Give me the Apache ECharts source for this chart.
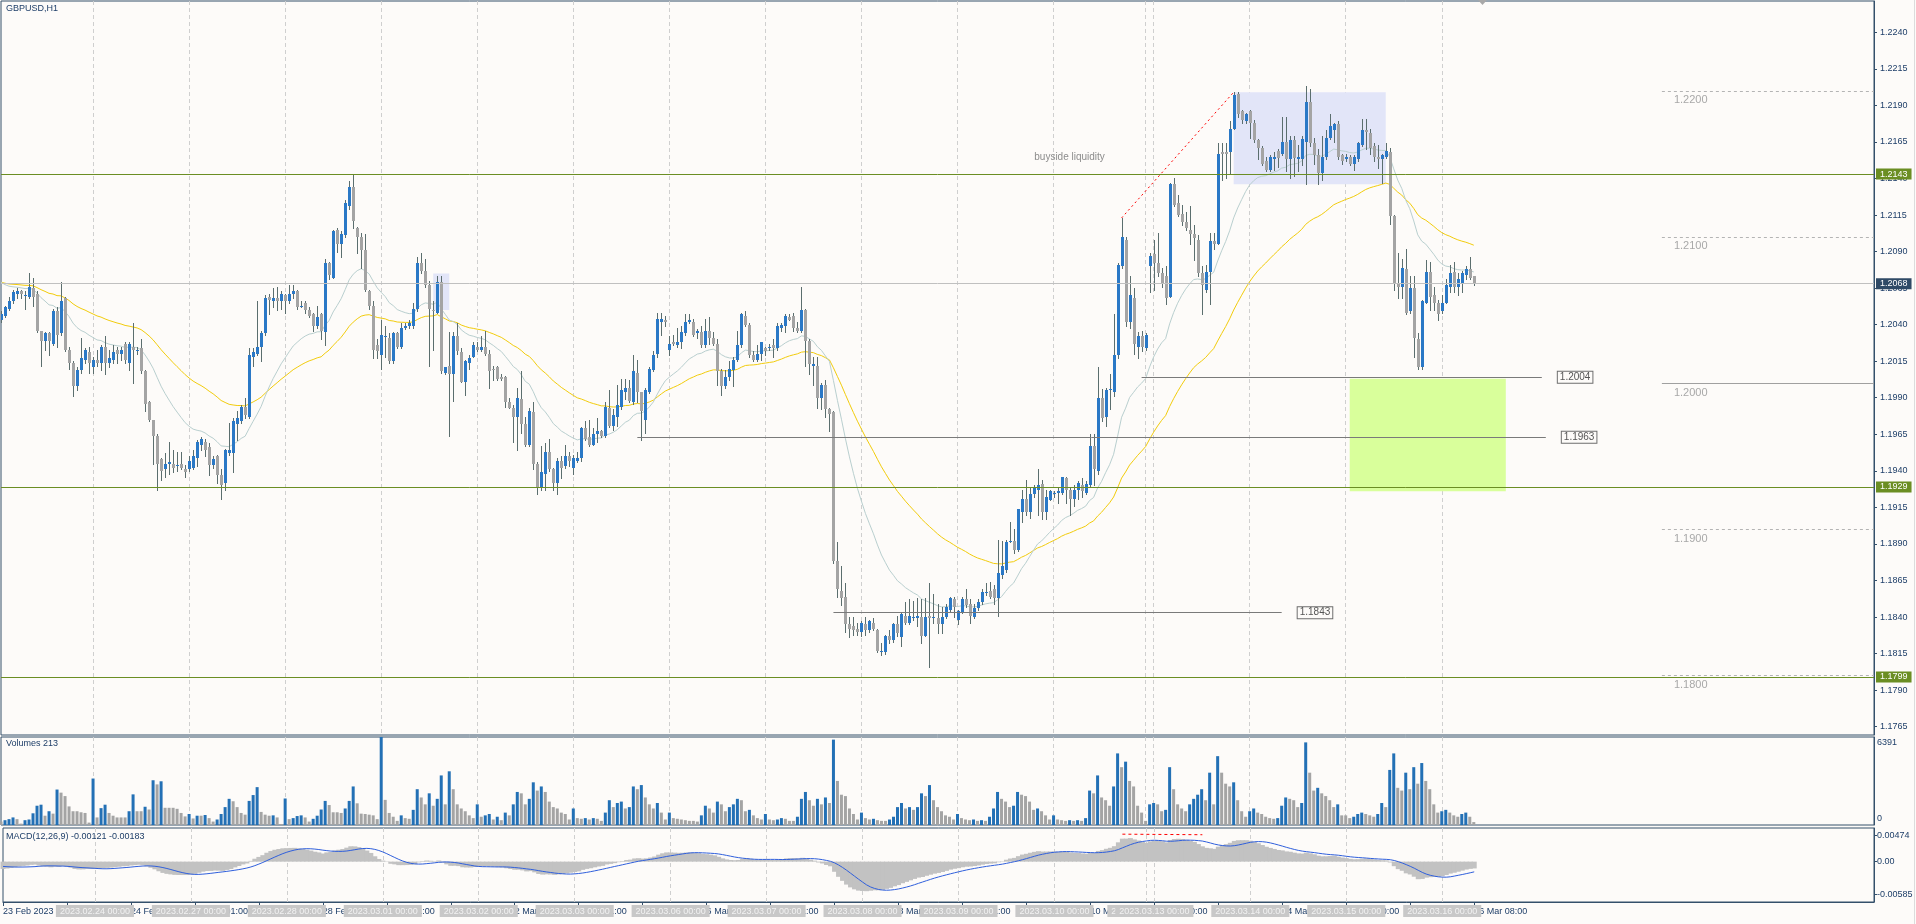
<!DOCTYPE html>
<html>
<head>
<meta charset="utf-8">
<title>GBPUSD,H1</title>
<script src="https://cdn.jsdelivr.net/npm/echarts@6/dist/echarts.min.js"></script>
<style>
html,body{margin:0;padding:0;background:#fdfbf9;overflow:hidden;}
#chart{width:1916px;height:924px;}
</style>
</head>
<body>
<div id="chart"></div>
<script>
// ---------------- DATA ----------------
// trading sessions shown: [date, first hour, number of H1 bars]
const sessions = [
  ['2023.02.23',1,23],['2023.02.24',0,24],['2023.02.27',0,24],['2023.02.28',0,24],
  ['2023.03.01',0,24],['2023.03.02',0,24],['2023.03.03',0,24],['2023.03.06',0,24],
  ['2023.03.07',0,24],['2023.03.08',0,24],['2023.03.09',0,24],['2023.03.10',0,23],
  ['2023.03.12',22,2],['2023.03.13',0,24],['2023.03.14',0,24],['2023.03.15',0,24],
  ['2023.03.16',0,9]
];
// empty (chart-shift) space to the right of the last bar
const futureSessions = [['2023.03.16',9,15],['2023.03.17',0,24],['2023.03.20',0,24],['2023.03.21',0,24],['2023.03.22',0,24]];
const totalSlots = 469;

const opens = [1.2043,1.2046,1.2051,1.2056,1.2061,1.2063,1.2060,1.2059,1.2065,1.2061,
1.2036,1.2029,1.2034,1.2027,1.2049,1.2034,1.2058,1.2023,1.2014,1.1998,
1.2009,1.2016,1.2021,1.2011,1.2016,1.2014,1.2025,1.2014,1.2016,1.2023,
1.2020,1.2027,1.2014,1.2025,1.2022,1.2024,1.2008,1.1987,1.1975,1.1964,
1.1948,1.1941,1.1945,1.1945,1.1943,1.1945,1.1941,1.1941,1.1942,1.1949,
1.1958,1.1960,1.1956,1.1944,1.1950,1.1937,1.1932,1.1952,1.1952,1.1972,
1.1974,1.1984,1.1977,1.2018,1.2020,1.2025,1.2034,1.2059,1.2056,1.2058,
1.2056,1.2060,1.2056,1.2061,1.2063,1.2053,1.2055,1.2050,1.2047,1.2039,
1.2047,1.2035,1.2082,1.2072,1.2105,1.2095,1.2101,1.2121,1.2134,1.2106,
1.2100,1.2091,1.2063,1.2053,1.2026,1.2019,1.2032,1.2031,1.2015,1.2034,
1.2025,1.2038,1.2039,1.2039,1.2051,1.2082,1.2077,1.2067,1.2050,1.2048,
1.2069,1.2007,1.2012,1.2006,1.2032,1.2021,1.2001,1.2014,1.2018,1.2025,
1.2023,1.2025,1.2020,1.2010,1.2011,1.2004,1.2004,1.1987,1.1983,1.1977,
1.1989,1.1972,1.1958,1.1980,1.1945,1.1929,1.1938,1.1953,1.1941,1.1932,
1.1947,1.1943,1.1950,1.1942,1.1947,1.1949,1.1969,1.1963,1.1958,1.1965,
1.1967,1.1964,1.1983,1.1971,1.1977,1.1984,1.1994,1.1997,1.1987,1.2007,
1.1994,1.1975,1.1994,1.2009,1.2020,1.2042,1.2043,1.2023,1.2028,1.2026,
1.2028,1.2034,1.2042,1.2042,1.2034,1.2035,1.2026,1.2036,1.2031,1.2027,
1.2008,1.1998,1.2004,1.2009,1.2016,1.2026,1.2046,1.2040,1.2019,1.2016,
1.2020,1.2024,1.2024,1.2026,1.2024,1.2038,1.2039,1.2045,1.2046,1.2038,
1.2036,1.2050,1.2029,1.2012,1.2012,1.1990,1.1999,1.1982,1.1980,1.1878,
1.1858,1.1854,1.1835,1.1834,1.1832,1.1830,1.1835,1.1831,1.1836,1.1831,
1.1816,1.1816,1.1827,1.1824,1.1835,1.1826,1.1841,1.1836,1.1839,1.1839,
1.1840,1.1827,1.1841,1.1839,1.1839,1.1835,1.1840,1.1845,1.1852,1.1838,
1.1843,1.1852,1.1849,1.1840,1.1846,1.1850,1.1857,1.1858,1.1859,1.1853,
1.1869,1.1872,1.1891,1.1892,1.1886,1.1912,1.1921,1.1912,1.1924,1.1927,
1.1931,1.1912,1.1920,1.1924,1.1925,1.1925,1.1935,1.1927,1.1921,1.1927,
1.1930,1.1925,1.1930,1.1957,1.1940,1.1990,1.1977,1.1995,1.1994,1.2019,
1.2080,1.2098,1.2042,1.2058,1.2025,1.2032,1.2024,1.2080,1.2088,1.2082,
1.2075,1.2073,1.2059,1.2136,1.2123,1.2116,1.2110,1.2105,1.2102,1.2098,
1.2075,1.2064,1.2076,1.2097,1.2095,1.2158,1.2158,1.2158,1.2174,1.2198,
1.2186,1.2179,1.2186,1.2178,1.2166,1.2161,1.2152,1.2146,1.2153,1.2159,
1.2157,1.2165,1.2153,1.2166,1.2153,1.2153,1.2165,1.2192,1.2164,1.2156,
1.2144,1.2155,1.2168,1.2173,1.2177,1.2156,1.2153,1.2155,1.2150,1.2153,
1.2163,1.2173,1.2171,1.2162,1.2155,1.2153,1.2155,1.2158,1.2114,1.2068,
1.2066,1.2078,1.2049,1.2065,1.2030,1.2011,1.2055,1.2076,1.2060,1.2055,
1.2049,1.2055,1.2066,1.2076,1.2066,1.2068,1.2074,1.2078,1.2073];

const highs = [1.2049,1.2053,1.2059,1.2064,1.2065,1.2064,1.2063,1.2075,1.2072,1.2063,
1.2036,1.2035,1.2035,1.2051,1.2052,1.2069,1.2059,1.2025,1.2015,1.2011,
1.2031,1.2024,1.2025,1.2018,1.2023,1.2026,1.2032,1.2023,1.2026,1.2025,
1.2025,1.2028,1.2028,1.2041,1.2025,1.2030,1.2009,1.1988,1.1975,1.1965,
1.1949,1.1952,1.1960,1.1954,1.1953,1.1953,1.1944,1.1950,1.1954,1.1961,
1.1963,1.1962,1.1959,1.1950,1.1951,1.1941,1.1955,1.1973,1.1976,1.1981,
1.1985,1.1990,1.2024,1.2024,1.2056,1.2036,1.2060,1.2061,1.2065,1.2066,
1.2063,1.2061,1.2067,1.2067,1.2064,1.2056,1.2056,1.2052,1.2048,1.2053,
1.2048,1.2085,1.2083,1.2105,1.2106,1.2104,1.2125,1.2138,1.2143,1.2107,
1.2103,1.2102,1.2064,1.2056,1.2030,1.2043,1.2039,1.2034,1.2035,1.2035,
1.2041,1.2041,1.2043,1.2055,1.2086,1.2089,1.2085,1.2070,1.2056,1.2073,
1.2073,1.2011,1.2035,1.2035,1.2041,1.2024,1.2016,1.2019,1.2028,1.2028,
1.2032,1.2036,1.2023,1.2012,1.2012,1.2006,1.2005,1.1990,1.1985,1.1997,
1.2008,1.1977,1.1983,1.1987,1.1946,1.1957,1.1959,1.1962,1.1942,1.1949,
1.1950,1.1958,1.1953,1.1951,1.1953,1.1970,1.1974,1.1975,1.1969,1.1976,
1.1968,1.1987,1.1995,1.1982,1.1999,1.2003,1.2003,1.2002,1.2019,1.2016,
1.1994,1.1997,1.2011,1.2022,1.2048,1.2048,1.2046,1.2032,1.2033,1.2038,
1.2039,1.2047,1.2047,1.2044,1.2037,1.2039,1.2044,1.2045,1.2035,1.2030,
1.2010,1.2009,1.2015,1.2018,1.2036,1.2048,1.2049,1.2041,1.2022,1.2026,
1.2028,1.2025,1.2027,1.2030,1.2041,1.2041,1.2047,1.2047,1.2048,1.2042,
1.2066,1.2051,1.2030,1.2018,1.2018,1.2000,1.2002,1.1983,1.1981,1.1891,
1.1875,1.1863,1.1840,1.1840,1.1836,1.1837,1.1840,1.1838,1.1839,1.1832,
1.1822,1.1828,1.1831,1.1836,1.1841,1.1843,1.1850,1.1852,1.1851,1.1853,
1.1852,1.1853,1.1863,1.1856,1.1849,1.1847,1.1849,1.1854,1.1854,1.1845,
1.1854,1.1859,1.1852,1.1849,1.1852,1.1859,1.1863,1.1864,1.1862,1.1893,
1.1892,1.1893,1.1905,1.1900,1.1914,1.1927,1.1934,1.1929,1.1930,1.1941,
1.1934,1.1927,1.1927,1.1926,1.1928,1.1936,1.1936,1.1929,1.1930,1.1933,
1.1935,1.1933,1.1965,1.1965,1.2011,1.1996,1.1997,1.2006,1.2047,1.2082,
1.2113,1.2100,1.2073,1.2065,1.2035,1.2036,1.2034,1.2089,1.2098,1.2103,
1.2079,1.2080,1.2137,1.2140,1.2129,1.2122,1.2117,1.2121,1.2108,1.2101,
1.2080,1.2081,1.2103,1.2103,1.2164,1.2164,1.2164,1.2179,1.2199,1.2199,
1.2187,1.2185,1.2187,1.2180,1.2167,1.2162,1.2155,1.2156,1.2158,1.2160,
1.2182,1.2182,1.2169,1.2169,1.2163,1.2169,1.2203,1.2201,1.2168,1.2160,
1.2169,1.2173,1.2184,1.2178,1.2179,1.2157,1.2157,1.2156,1.2156,1.2165,
1.2181,1.2181,1.2174,1.2164,1.2163,1.2157,1.2164,1.2161,1.2115,1.2089,
1.2085,1.2092,1.2073,1.2073,1.2034,1.2057,1.2084,1.2083,1.2066,1.2057,
1.2060,1.2071,1.2081,1.2083,1.2075,1.2077,1.2080,1.2086,1.2073];

const lows = [1.2042,1.2045,1.2050,1.2055,1.2058,1.2058,1.2051,1.2058,1.2053,1.2035,
1.2012,1.2023,1.2019,1.2026,1.2025,1.2033,1.2022,1.2010,1.1991,1.1995,
1.2007,1.2014,1.2007,1.2007,1.2012,1.2009,1.2006,1.2011,1.2014,1.2014,
1.2016,1.2014,1.2009,1.2000,1.2020,1.2007,1.1981,1.1974,1.1945,1.1927,
1.1934,1.1936,1.1938,1.1939,1.1940,1.1941,1.1936,1.1940,1.1941,1.1943,
1.1954,1.1950,1.1937,1.1942,1.1932,1.1921,1.1927,1.1951,1.1939,1.1961,
1.1973,1.1976,1.1976,1.2012,1.2019,1.2015,1.2033,1.2047,1.2052,1.2050,
1.2051,1.2048,1.2055,1.2058,1.2051,1.2052,1.2048,1.2045,1.2036,1.2038,
1.2030,1.2026,1.2071,1.2072,1.2090,1.2086,1.2100,1.2119,1.2106,1.2089,
1.2079,1.2063,1.2051,1.2017,1.2017,1.2010,1.2018,1.2014,1.2014,1.2024,
1.2024,1.2037,1.2038,1.2038,1.2049,1.2075,1.2066,1.2012,1.2023,1.2048,
1.2007,1.2006,1.1964,1.1988,1.2020,1.2001,1.1992,1.2010,1.2018,1.2022,
1.2022,1.2019,1.1997,1.2002,1.2002,1.2002,1.1984,1.1983,1.1960,1.1954,
1.1966,1.1957,1.1957,1.1941,1.1924,1.1927,1.1927,1.1940,1.1927,1.1924,
1.1935,1.1942,1.1943,1.1938,1.1946,1.1947,1.1961,1.1957,1.1958,1.1960,
1.1963,1.1963,1.1970,1.1968,1.1971,1.1982,1.1989,1.1987,1.1986,1.1987,
1.1961,1.1966,1.1993,1.2008,1.2018,1.2033,1.2039,1.2019,1.2026,1.2025,
1.2024,1.2033,1.2041,1.2032,1.2031,1.2025,1.2025,1.2027,1.2026,1.1999,
1.1992,1.1997,1.2002,1.1998,1.2015,1.2025,1.2039,1.2018,1.2015,1.2015,
1.2016,1.2019,1.2023,1.2018,1.2023,1.2036,1.2035,1.2043,1.2036,1.2035,
1.2035,1.2012,1.2006,1.1999,1.1983,1.1982,1.1977,1.1967,1.1877,1.1854,
1.1848,1.1830,1.1826,1.1828,1.1828,1.1827,1.1828,1.1830,1.1831,1.1816,
1.1814,1.1815,1.1822,1.1823,1.1827,1.1820,1.1835,1.1835,1.1838,1.1834,
1.1822,1.1827,1.1806,1.1836,1.1829,1.1829,1.1839,1.1844,1.1840,1.1835,
1.1843,1.1847,1.1836,1.1839,1.1845,1.1849,1.1855,1.1853,1.1849,1.1841,
1.1867,1.1871,1.1891,1.1884,1.1885,1.1905,1.1910,1.1908,1.1922,1.1910,
1.1907,1.1907,1.1920,1.1922,1.1918,1.1924,1.1918,1.1910,1.1916,1.1921,
1.1922,1.1924,1.1929,1.1930,1.1938,1.1974,1.1971,1.1982,1.1991,1.2017,
1.2079,1.2039,1.2038,1.2020,1.2017,1.2022,1.2023,1.2062,1.2064,1.2073,
1.2066,1.2054,1.2059,1.2121,1.2114,1.2108,1.2105,1.2095,1.2084,1.2073,
1.2047,1.2062,1.2054,1.2092,1.2095,1.2139,1.2140,1.2144,1.2174,1.2182,
1.2178,1.2178,1.2168,1.2165,1.2153,1.2149,1.2145,1.2145,1.2146,1.2148,
1.2156,1.2145,1.2140,1.2142,1.2145,1.2149,1.2136,1.2162,1.2150,1.2136,
1.2139,1.2153,1.2167,1.2165,1.2153,1.2150,1.2152,1.2149,1.2146,1.2152,
1.2162,1.2160,1.2157,1.2152,1.2147,1.2137,1.2154,1.2109,1.2064,1.2058,
1.2058,1.2047,1.2048,1.2018,1.2010,1.2010,1.2055,1.2050,1.2050,1.2043,
1.2048,1.2055,1.2062,1.2062,1.2060,1.2062,1.2071,1.2071,1.2067];

const closes = [1.2047,1.2052,1.2056,1.2062,1.2063,1.2061,1.2060,1.2066,1.2059,1.2036,
1.2029,1.2034,1.2029,1.2049,1.2033,1.2056,1.2023,1.2014,1.1998,1.2009,
1.2017,1.2023,1.2014,1.2016,1.2014,1.2025,1.2014,1.2017,1.2021,1.2020,
1.2023,1.2016,1.2027,1.2023,1.2023,1.2008,1.1986,1.1975,1.1964,1.1945,
1.1940,1.1945,1.1946,1.1942,1.1944,1.1942,1.1939,1.1947,1.1950,1.1960,
1.1962,1.1954,1.1944,1.1948,1.1937,1.1930,1.1954,1.1954,1.1974,1.1976,
1.1984,1.1978,1.2019,1.2021,1.2025,1.2034,1.2058,1.2057,1.2058,1.2056,
1.2061,1.2056,1.2061,1.2063,1.2052,1.2053,1.2050,1.2046,1.2039,1.2045,
1.2036,1.2082,1.2074,1.2104,1.2095,1.2102,1.2123,1.2134,1.2111,1.2100,
1.2091,1.2064,1.2053,1.2023,1.2022,1.2033,1.2032,1.2015,1.2034,1.2025,
1.2038,1.2039,1.2041,1.2051,1.2082,1.2077,1.2067,1.2051,1.2049,1.2069,
1.2008,1.2011,1.2006,1.2032,1.2022,1.2001,1.2015,1.2017,1.2026,1.2023,
1.2025,1.2020,1.2008,1.2009,1.2003,1.2003,1.1987,1.1983,1.1977,1.1990,
1.1972,1.1958,1.1981,1.1945,1.1928,1.1939,1.1953,1.1941,1.1932,1.1947,
1.1942,1.1950,1.1947,1.1949,1.1949,1.1969,1.1962,1.1958,1.1965,1.1967,
1.1964,1.1984,1.1971,1.1978,1.1985,1.1995,1.1997,1.1988,1.2008,1.1994,
1.1981,1.1995,1.2010,1.2019,1.2044,1.2044,1.2042,1.2027,1.2027,1.2028,
1.2035,1.2042,1.2043,1.2033,1.2036,1.2026,1.2036,1.2031,1.2027,1.2008,
1.1998,1.2004,1.2010,1.2016,1.2026,1.2047,1.2040,1.2019,1.2016,1.2020,
1.2028,1.2022,1.2025,1.2024,1.2039,1.2040,1.2046,1.2043,1.2038,1.2036,
1.2050,1.2029,1.2013,1.2013,1.1990,1.1999,1.1982,1.1979,1.1878,1.1859,
1.1853,1.1835,1.1832,1.1831,1.1830,1.1836,1.1831,1.1837,1.1832,1.1817,
1.1817,1.1827,1.1824,1.1835,1.1829,1.1842,1.1836,1.1841,1.1840,1.1841,
1.1827,1.1840,1.1839,1.1840,1.1835,1.1840,1.1847,1.1853,1.1847,1.1844,
1.1852,1.1848,1.1841,1.1846,1.1850,1.1857,1.1857,1.1854,1.1853,1.1870,
1.1875,1.1891,1.1892,1.1886,1.1914,1.1921,1.1912,1.1924,1.1928,1.1930,
1.1912,1.1922,1.1926,1.1925,1.1926,1.1936,1.1927,1.1921,1.1927,1.1932,
1.1926,1.1931,1.1957,1.1941,1.1990,1.1976,1.1995,1.1996,1.2019,1.2081,
1.2100,1.2042,1.2060,1.2027,1.2032,1.2025,1.2033,1.2087,1.2082,1.2075,
1.2068,1.2058,1.2136,1.2122,1.2115,1.2110,1.2106,1.2102,1.2099,1.2075,
1.2067,1.2076,1.2097,1.2095,1.2157,1.2157,1.2157,1.2174,1.2197,1.2184,
1.2180,1.2184,1.2178,1.2166,1.2161,1.2150,1.2146,1.2155,1.2155,1.2154,
1.2165,1.2153,1.2166,1.2154,1.2155,1.2167,1.2192,1.2164,1.2156,1.2144,
1.2155,1.2168,1.2176,1.2177,1.2155,1.2152,1.2155,1.2150,1.2155,1.2164,
1.2173,1.2172,1.2161,1.2155,1.2153,1.2156,1.2159,1.2114,1.2068,1.2066,
1.2079,1.2048,1.2065,1.2031,1.2011,1.2056,1.2076,1.2059,1.2055,1.2047,
1.2055,1.2067,1.2075,1.2066,1.2071,1.2075,1.2078,1.2072,1.2068];

// tick volume per bar
const volumes = [250,350,425,550,425,100,350,400,850,1400,
1475,675,1000,825,2575,2350,2100,1350,1000,1000,
925,875,175,3375,550,1225,1475,875,675,550,
550,550,1000,2225,1000,1000,1325,1125,3250,2950,
3175,1250,1250,1250,1175,875,625,800,475,675,
675,725,500,250,400,800,1300,1900,1725,1300,
875,750,1750,2175,2750,950,750,675,700,550,
75,1925,425,500,650,700,550,250,450,675,
1125,1750,1450,925,925,875,1200,1750,2800,1575,
825,800,750,700,425,6391,1825,875,600,300,
700,500,450,1100,2600,2000,1500,2300,1400,1900,
3600,1500,3900,2600,1500,1200,1000,700,500,
1500,600,700,800,400,600,350,900,700,1500,2400,2300,1500,1900,3100,2500,2800,2400,1700,1300,1200,900,800,400,
1200,500,450,500,400,500,450,300,900,1800,1300,1600,1700,1200,1300,2800,2600,2900,2000,1500,1200,1600,900,400,
900,500,450,400,350,300,300,250,700,1400,1200,900,1700,1500,1000,1300,1500,1900,1800,1000,1100,700,500,400,
800,400,350,400,500,450,300,300,600,1900,2400,1800,1400,1900,1500,2000,1600,6200,3200,2200,2100,1200,800,400,
900,500,400,450,350,300,300,400,600,1300,1600,1200,1300,1100,1300,2300,2100,2900,1800,1300,1000,700,600,400,
800,500,400,350,400,300,350,300,600,1200,2400,1900,1700,1300,1400,2400,2200,2100,1700,1100,1200,1000,700,400,
700,400,350,300,350,300,350,300,500,2500,2300,3600,2000,1800,1400,2800,5200,4200,4600,3200,2800,1400,900,
300,1500,
1600,1500,1000,1100,4200,2600,1500,1200,1000,1500,1900,2200,2600,1800,3800,1500,5000,3800,3000,2800,3100,1800,1000,600,
1000,1200,900,800,600,500,450,500,1400,2000,1900,1800,1300,1600,6000,3800,2500,2700,2300,2100,1800,1300,1500,700,
700,500,600,800,900,800,700,600,800,1600,1300,4000,5200,2700,2500,3800,2600,4200,3000,4500,3200,2600,1500,900,
1000,1100,900,700,600,800,900,600,213];

const ema20Start = 1.2069, ema50Start = 1.2069;
const ema12Start = 1.2055, ema26Start = 1.2068, signalStart = -0.0008;

// axis ticks
const priceTicks = [1.1765,1.1790,1.1815,1.1840,1.1865,1.1890,1.1915,1.1940,1.1965,1.1990,
  1.2015,1.2040,1.2065,1.2090,1.2115,1.2140,1.2165,1.2190,1.2215,1.2240];
const priceMin = 1.17593, priceMax = 1.22614;
const volumeTicks = [0, 6391];
const volumeMax = 6391;
const macdTicks = [-0.00585, 0, 0.00474];
const macdMin = -0.0072, macdMax = 0.0060;

// drawn objects
const greenLevels = [1.2143, 1.1929, 1.1799];
const bidPrice = 1.2068;
const roundLevels = [1.2200, 1.2100, 1.2000, 1.1900, 1.1800];
const priceLabelLines = [
  {price:1.2004, from:285, to:385},
  {price:1.1963, from:159, to:386},
  {price:1.1843, from:208, to:320}
];
const boxes = [
  {from:308, to:346, top:1.2199, bottom:1.2136, color:'#e2e5f8'},
  {from:108, to:112, top:1.2075, bottom:1.2050, color:'#e2e5f8'},
  {from:337, to:376, top:1.2003, bottom:1.1926, color:'#d9ff9b'}
];
const trendLine = {from:280, fromPrice:1.2113, to:308, toPrice:1.2199};
const macdTrend = {from:280, fromVal:0.0049, to:300, toVal:0.0048};
const textNote = {bar:267, price:1.2154, text:'buyside liquidity'};

// ---------------- BUILD ----------------
const MONTHS = ['Jan','Feb','Mar','Apr','May','Jun','Jul','Aug','Sep','Oct','Nov','Dec'];
const pad = n => (n < 10 ? '0' : '') + n;
const cats = [];
const sepIdx = new Set();
sessions.forEach((s, si) => {
  for (let k = 0; k < s[2]; k++) {
    if (k === 0 && si > 0) sepIdx.add(cats.length);
    cats.push(s[0] + ' ' + pad(s[1] + k) + ':00');
  }
});
const lastBar = cats.length - 1;
futureSessions.forEach(s => { for (let k = 0; k < s[2]; k++) cats.push(s[0] + ' ' + pad(s[1] + k) + ':00'); });
cats.length = totalSlots;

function emaCalc(src, period, seed) {
  const k = 2 / (period + 1); const out = []; let e = seed;
  for (let i = 0; i < src.length; i++) { if (i > 0) e = e + k * (src[i] - e); out.push(e); }
  return out;
}
const ema20 = emaCalc(closes, 20, ema20Start);
const ema50 = emaCalc(closes, 50, ema50Start);
const e12 = emaCalc(closes, 12, ema12Start);
const e26 = emaCalc(closes, 26, ema26Start);
const macd = e12.map((v, i) => v - e26[i]);
const signal = macd.map((v, i) => {
  let s = 0; for (let j = i - 8; j <= i; j++) s += (j < 0 ? signalStart : macd[j]); return s / 9;
});

const BULL = '#2a78c6', BEAR = '#a4a4a4', WICK = '#5b6e6e';
const FRAME = '#34506b', TXT = '#20406a', SEP = '#cfcfcf';
const FONT = '"Liberation Sans", Arial, sans-serif';

const candleData = opens.map((o, i) => [i, o, closes[i], lows[i], highs[i]]);
const volData = volumes.map((v, i) => ({value: [i, v], itemStyle: {color: (i > 0 && v > volumes[i-1]) ? '#2370b5' : '#a4a4a4'}}));

function renderCandle(params, api) {
  const i = api.value(0), o = api.value(1), c = api.value(2), l = api.value(3), h = api.value(4);
  const pO = api.coord([i, o]), pC = api.coord([i, c]), pL = api.coord([i, l]), pH = api.coord([i, h]);
  const x = Math.round(pO[0]);
  const top = Math.round(Math.min(pO[1], pC[1])), bot = Math.round(Math.max(pO[1], pC[1]));
  return {type: 'group', children: [
    {type: 'line', shape: {x1: x + 0.5, y1: Math.round(pH[1]), x2: x + 0.5, y2: Math.round(pL[1]) + 1}, style: {stroke: WICK, lineWidth: 1}},
    {type: 'rect', shape: {x: x - 1, y: top, width: 3, height: Math.max(1, bot - top)}, style: {fill: c >= o ? BULL : BEAR}}
  ]};
}

const sepInterval = (idx) => sepIdx.has(idx);
const lblInterval = (idx) => idx % 16 === 0 && idx <= lastBar;
function fmtTime(v, idx) {
  const d = v.split(' ')[0].split('.'), t = v.split(' ')[1];
  if (idx === 0) return (+d[2]) + ' ' + MONTHS[+d[1] - 1] + ' ' + d[0];
  return (+d[2]) + ' ' + MONTHS[+d[1] - 1] + ' ' + t;
}

const gridDefs = [
  {left: 1, width: 1873, top: 1, height: 734},
  {left: 1, width: 1873, top: 737, height: 88},
  {left: 1, width: 1873, top: 828, height: 74}
];
const sepAxis = (gi) => ({
  type: 'category', gridIndex: gi, data: cats, boundaryGap: false,
  axisLine: {show: false}, axisTick: {show: false}, axisLabel: {show: false},
  splitLine: {show: true, interval: sepInterval, lineStyle: {color: SEP, type: [4, 3], width: 1}}
});

const tagLabel = (txt, bg) => ({show: true, position: 'end', distance: 2, formatter: txt, backgroundColor: bg, color: '#ffffff',
  fontSize: 9, fontFamily: FONT, padding: [1, 4, 0, 4], lineHeight: 10});
const markLines = [];
greenLevels.forEach(p => markLines.push({yAxis: p, lineStyle: {color: '#6b8e23', type: 'solid', width: 1}, label: tagLabel(p.toFixed(4), '#6b8e23')}));
markLines.push({yAxis: bidPrice, lineStyle: {color: '#c0c0c0', type: 'solid', width: 1}, label: tagLabel(bidPrice.toFixed(4), '#2f4a66')});
roundLevels.forEach(p => markLines.push([
  {coord: [415, p], lineStyle: {color: p === 1.2 ? '#a0a0a0' : '#b4b4b4', type: p === 1.2 ? 'solid' : [3, 3], width: 1},
   label: {show: true, position: 'insideStartBottom', formatter: p.toFixed(4), color: '#a8a8a8', fontSize: 11, fontFamily: FONT, distance: [12, 4]}},
  {coord: [totalSlots - 1, p]}
]));
priceLabelLines.forEach(l => markLines.push([
  {coord: [l.from, l.price], lineStyle: {color: '#7a7a7a', type: 'solid', width: 1},
   label: {show: true, position: 'end', distance: 16, formatter: l.price.toFixed(4), backgroundColor: '#fdfbf9',
     borderColor: '#6e6e6e', borderWidth: 1, color: '#555555', fontSize: 10, fontFamily: FONT, padding: [1, 2, 0, 2], lineHeight: 10}},
  {coord: [l.to, l.price]}
]));
markLines.push([
  {coord: [trendLine.from, trendLine.fromPrice], lineStyle: {color: '#ff0000', type: [2, 3], width: 1}, label: {show: false}},
  {coord: [trendLine.to, trendLine.toPrice]}
]);

const option = {
  animation: false,
  backgroundColor: '#fdfbf9',
  grid: gridDefs.map(g => Object.assign({show: true, borderColor: FRAME, borderWidth: 1, backgroundColor: 'transparent'}, g)),
  xAxis: [
    sepAxis(0), sepAxis(1), sepAxis(2),
    {type: 'category', gridIndex: 2, data: cats, boundaryGap: false, position: 'bottom',
     axisLine: {show: true, lineStyle: {color: FRAME}},
     axisTick: {show: true, interval: lblInterval, length: 4, lineStyle: {color: FRAME}},
     axisLabel: {interval: lblInterval, formatter: fmtTime, align: 'left', color: TXT, fontSize: 9, fontFamily: FONT, margin: 5},
     splitLine: {show: false}},
    {type: 'category', gridIndex: 2, data: cats, boundaryGap: false, position: 'bottom', z: 5,
     axisLine: {show: false}, axisTick: {show: false}, splitLine: {show: false},
     axisLabel: {interval: sepInterval, formatter: v => v, align: 'center', color: '#f2f2f2', backgroundColor: '#c8c8c8',
       padding: [2, 4, 1, 4], fontSize: 9, fontFamily: FONT, margin: 3}}
  ],
  yAxis: [
    {type: 'value', gridIndex: 0, position: 'right', min: priceMin, max: priceMax,
     axisLine: {show: true, lineStyle: {color: FRAME}},
     axisTick: {show: true, customValues: priceTicks, length: 3, lineStyle: {color: FRAME}},
     axisLabel: {customValues: priceTicks, formatter: v => v.toFixed(4), color: TXT, fontSize: 9, fontFamily: FONT, margin: 6},
     splitLine: {show: false}},
    {type: 'value', gridIndex: 1, position: 'right', min: 0, max: volumeMax,
     axisLine: {show: true, lineStyle: {color: FRAME}}, axisTick: {show: false},
     axisLabel: {customValues: volumeTicks, formatter: v => v === 0 ? '{b|0}' : '{t|' + v + '}', color: TXT, fontSize: 9, fontFamily: FONT, margin: 3,
       rich: {t: {padding: [12, 0, 0, 0], fontSize: 9, color: TXT, fontFamily: FONT}, b: {padding: [0, 0, 12, 0], fontSize: 9, color: TXT, fontFamily: FONT}}},
     splitLine: {show: false}},
    {type: 'value', gridIndex: 2, position: 'right', min: macdMin, max: macdMax,
     axisLine: {show: true, lineStyle: {color: FRAME}},
     axisTick: {show: true, customValues: macdTicks, length: 3, lineStyle: {color: FRAME}},
     axisLabel: {customValues: macdTicks, formatter: v => v === 0 ? '0.00' : v.toFixed(5), color: TXT, fontSize: 9, fontFamily: FONT, margin: 3},
     splitLine: {show: false}}
  ],
  series: [
    {type: 'line', xAxisIndex: 0, yAxisIndex: 0, data: [], z: 1, silent: true,
     markArea: {silent: true, data: boxes.map(b => [{coord: [b.from, b.top], itemStyle: {color: b.color}}, {coord: [b.to, b.bottom]}])}},
    {type: 'line', name: 'EMA50', xAxisIndex: 0, yAxisIndex: 0, data: ema50.map((v, i) => [i, v]), showSymbol: false, z: 2,
     lineStyle: {color: '#f2cc0c', width: 1}, silent: true},
    {type: 'line', name: 'EMA20', xAxisIndex: 0, yAxisIndex: 0, data: ema20.map((v, i) => [i, v]), showSymbol: false, z: 2,
     lineStyle: {color: '#b9cfcf', width: 1}, silent: true},
    {type: 'custom', name: 'GBPUSD', xAxisIndex: 0, yAxisIndex: 0, data: candleData, renderItem: renderCandle, z: 3,
     encode: {x: 0, y: [1, 2, 3, 4]}, clip: true, silent: true},
    {type: 'line', xAxisIndex: 0, yAxisIndex: 0, data: [], z: 4, silent: true,
     markLine: {silent: true, precision: 5, symbol: ['none', 'none'], animation: false, data: markLines},
     markPoint: {silent: true, data: [{coord: [textNote.bar, textNote.price], symbolSize: 1, itemStyle: {color: 'rgba(0,0,0,0)'},
       label: {show: true, position: 'inside', formatter: textNote.text, color: '#8c8c8c', fontSize: 10, fontFamily: FONT}}]}},
    {type: 'bar', name: 'Volumes', xAxisIndex: 1, yAxisIndex: 1, data: volData, barWidth: 3, silent: true},
    {type: 'bar', name: 'MACD', xAxisIndex: 2, yAxisIndex: 2, data: macd.map((v, i) => [i, v]), barWidth: 5,
     itemStyle: {color: '#c2c2c2'}, silent: true},
    {type: 'line', name: 'Signal', xAxisIndex: 2, yAxisIndex: 2, data: signal.map((v, i) => [i, v]), showSymbol: false,
     lineStyle: {color: '#2f5fdc', width: 1}, silent: true, z: 3,
     markLine: {silent: true, precision: 6, symbol: ['none', 'none'], data: [[
       {coord: [macdTrend.from, macdTrend.fromVal], lineStyle: {color: '#ff0000', type: [3, 3], width: 1}, label: {show: false}},
       {coord: [macdTrend.to, macdTrend.toVal]}]]}}
  ],
  graphic: [
    {type: 'text', left: 6, top: 4, style: {text: 'GBPUSD,H1', fill: TXT, font: '9px ' + FONT}, z: 100},
    {type: 'text', left: 6, top: 739, style: {text: 'Volumes 213', fill: TXT, font: '9px ' + FONT}, z: 100},
    {type: 'text', left: 6, top: 832, style: {text: 'MACD(12,26,9) -0.00121 -0.00183', fill: TXT, font: '9px ' + FONT}, z: 100},
    {type: 'polygon', shape: {points: [[1478, 0], [1487, 0], [1482.5, 5]]}, style: {fill: '#a8a8a8'}, z: 100},
    {type: 'line', shape: {x1: 1914.5, y1: 0, x2: 1914.5, y2: 924}, style: {stroke: '#dcdcdc', lineWidth: 1}, z: 100}
  ]
};
const chart = echarts.init(document.getElementById('chart'), null, {renderer: 'canvas'});
chart.setOption(option);
</script>
</body>
</html>
